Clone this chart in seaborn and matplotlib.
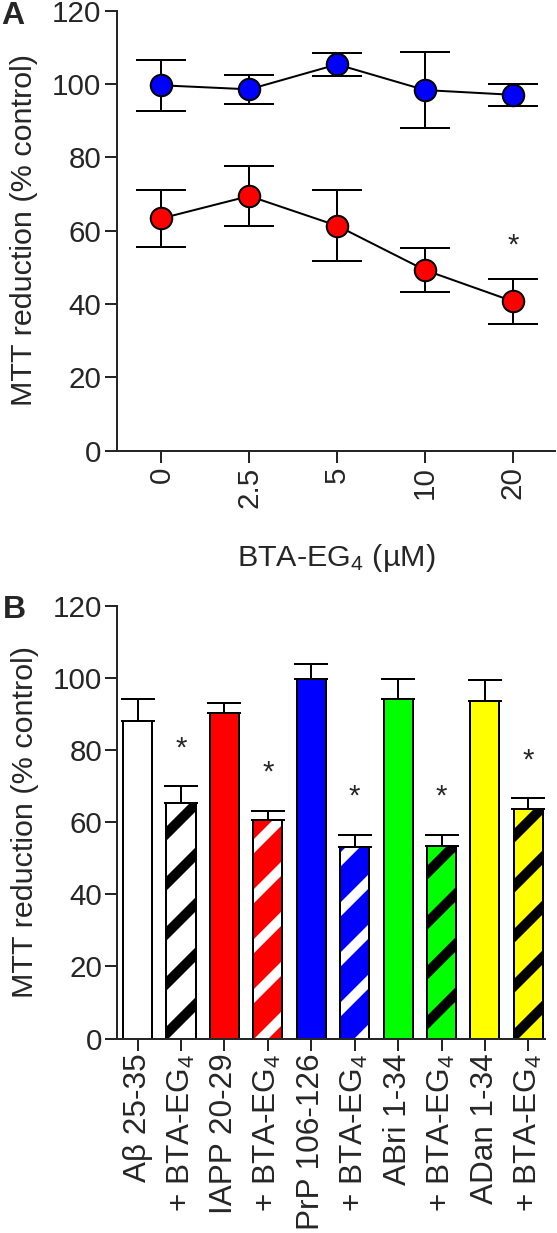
import numpy as np
import pandas as pd
import matplotlib
matplotlib.use("Agg")
import matplotlib.pyplot as plt
import seaborn as sns
from matplotlib.patches import Rectangle

# ---------------- data ----------------
# Panel A
conc_labels = ["0", "2.5", "5", "10", "20"]
control_mean = [99.6, 98.5, 105.3, 98.3, 97.0]
control_err = [7.0, 4.0, 3.2, 10.4, 3.05]
abeta_mean = [63.3, 69.4, 61.3, 49.2, 40.7]
abeta_err = [7.85, 8.15, 9.7, 5.9, 6.15]
abeta_star = [False, False, False, False, True]

# Panel B
conditions = ["Abeta", "Abeta+BTA", "IAPP", "IAPP+BTA", "PrP", "PrP+BTA",
              "ABri", "ABri+BTA", "ADan", "ADan+BTA"]
bar_labels = ["Aβ 25-35", "+ BTA-EG$_4$", "IAPP 20-29", "+ BTA-EG$_4$",
              "PrP 106-126", "+ BTA-EG$_4$", "ABri 1-34", "+ BTA-EG$_4$",
              "ADan 1-34", "+ BTA-EG$_4$"]
bar_means = [88.0, 65.2, 90.3, 60.6, 99.8, 53.1, 94.2, 53.3, 93.7, 63.5]
bar_errs = [6.0, 4.7, 2.8, 2.6, 4.0, 3.4, 5.6, 3.2, 5.7, 3.2]
bar_colors = ["#FFFFFF", "#FFFFFF", "#FF0000", "#FF0000", "#0000FF", "#0000FF",
              "#00FF00", "#00FF00", "#FFFF00", "#FFFF00"]
bar_hatched = [False, True, False, True, False, True, False, True, False, True]
stripe_colors = [None, "black", None, "white", None, "white", None, "black", None, "black"]
bar_star = [False, True, False, True, False, True, False, True, False, True]

# ---------------- style ----------------
DPI = 300
px = 72.0 / DPI  # one pixel in points

sns.set_style("ticks")
plt.rcParams["font.family"] = ["Liberation Sans", "DejaVu Sans"]
plt.rcParams["mathtext.default"] = "regular"
plt.rcParams["hatch.linewidth"] = 10 * px
plt.rcParams["axes.linewidth"] = 2 * px

tick_fs = 29.5 * px
xtickB_fs = 31.5 * px
label_fs = 30.5 * px
lw = 2 * px

W, H = 557, 1233
fig = plt.figure(figsize=(W / DPI, H / DPI), dpi=DPI)
axA = fig.add_axes([117 / W, 1 - 450.5 / H, (555 - 117) / W, (450.5 - 10.5) / H])
axB = fig.add_axes([117 / W, 1 - 1038.5 / H, (545.3 - 117) / W, (1038.5 - 605.7) / H])

# ---------------- Panel A ----------------
dfA = pd.DataFrame({"conc": conc_labels * 2,
                    "value": control_mean + abeta_mean,
                    "series": ["control"] * 5 + ["abeta"] * 5})
xpos = np.arange(len(conc_labels))
for name, means, errs, col in [("control", control_mean, control_err, "#0000FF"),
                               ("abeta", abeta_mean, abeta_err, "#FF0000")]:
    axA.errorbar(xpos, means, yerr=errs, fmt="none", ecolor="black",
                 elinewidth=lw, capsize=25 * px, capthick=lw, zorder=2)
    sns.pointplot(data=dfA[dfA.series == name], x="conc", y="value", order=conc_labels,
                  color="black", errorbar=None, markers="o", linewidth=lw,
                  markersize=21.5 * px, markeredgewidth=lw, ax=axA)
    ln = axA.lines[-1]
    ln.set_markerfacecolor(col)
    ln.set_markeredgecolor("black")
    ln.set_zorder(3)

for i, (m, e, s) in enumerate(zip(abeta_mean, abeta_err, abeta_star)):
    if s:
        axA.text(i, m + e + 9.0, "*", ha="center", va="center", fontsize=tick_fs)

axA.set_xlim(-0.506, 4.48)
axA.set_ylim(0, 120)
axA.set_yticks(range(0, 121, 20))
axA.set_xticks(xpos)
axA.set_xticklabels(conc_labels, rotation=90)
axA.set_ylabel("MTT reduction (% control)", fontsize=label_fs, labelpad=14 * px)
axA.set_xlabel("BTA-EG$_4$ (µM)", fontsize=label_fs, labelpad=34 * px)
axA.tick_params(length=12 * px, width=lw, labelsize=tick_fs, pad=4 * px)
sns.despine(ax=axA)

# ---------------- Panel B ----------------
dfB = pd.DataFrame({"condition": conditions, "value": bar_means})
sns.barplot(data=dfB, x="condition", y="value", order=conditions, hue="condition",
            palette=dict(zip(conditions, bar_colors)), legend=False, saturation=1,
            errorbar=None, width=0.67, ax=axB, zorder=2)

bars = list(axB.patches)
centers = []
for p, hatched, sc in zip(bars, bar_hatched, stripe_colors):
    centers.append(p.get_x() + p.get_width() / 2)
    if hatched:
        p.set_hatch("//")
        if hasattr(p, "set_hatchcolor"):
            p.set_hatchcolor(sc)
        else:
            p.set_edgecolor(sc)
        p.set_linewidth(0)
        axB.add_patch(Rectangle(p.get_xy(), p.get_width(), p.get_height(),
                                fill=False, edgecolor="black", linewidth=lw, zorder=2.5))
    else:
        p.set_edgecolor("black")
        p.set_linewidth(lw)

axB.errorbar(centers, bar_means, yerr=[np.zeros(len(bar_errs)), bar_errs], fmt="none",
             ecolor="black", elinewidth=lw, capsize=17 * px, capthick=lw, zorder=1.5)

for c, m, e, s in zip(centers, bar_means, bar_errs, bar_star):
    if s:
        axB.text(c, m + e + 10.5, "*", ha="center", va="center", fontsize=tick_fs)

axB.set_xlim(-0.475, 9.39)
axB.set_ylim(0, 120)
axB.set_yticks(range(0, 121, 20))
axB.set_xticks(np.arange(len(conditions)))
axB.set_xticklabels(bar_labels, rotation=90)
axB.set_ylabel("MTT reduction (% control)", fontsize=label_fs, labelpad=14 * px)
axB.set_xlabel("")
axB.tick_params(length=12 * px, width=lw, labelsize=tick_fs, pad=3 * px)
axB.tick_params(axis="x", labelsize=xtickB_fs)
sns.despine(ax=axB)

fig.text(1 / W, 1 - 1 / H, "A", fontsize=32 * px, fontweight="bold", va="top", ha="left")
fig.text(3 / W, 1 - 595 / H, "B", fontsize=32 * px, fontweight="bold", va="top", ha="left")

fig.savefig("out.png", dpi=DPI)
